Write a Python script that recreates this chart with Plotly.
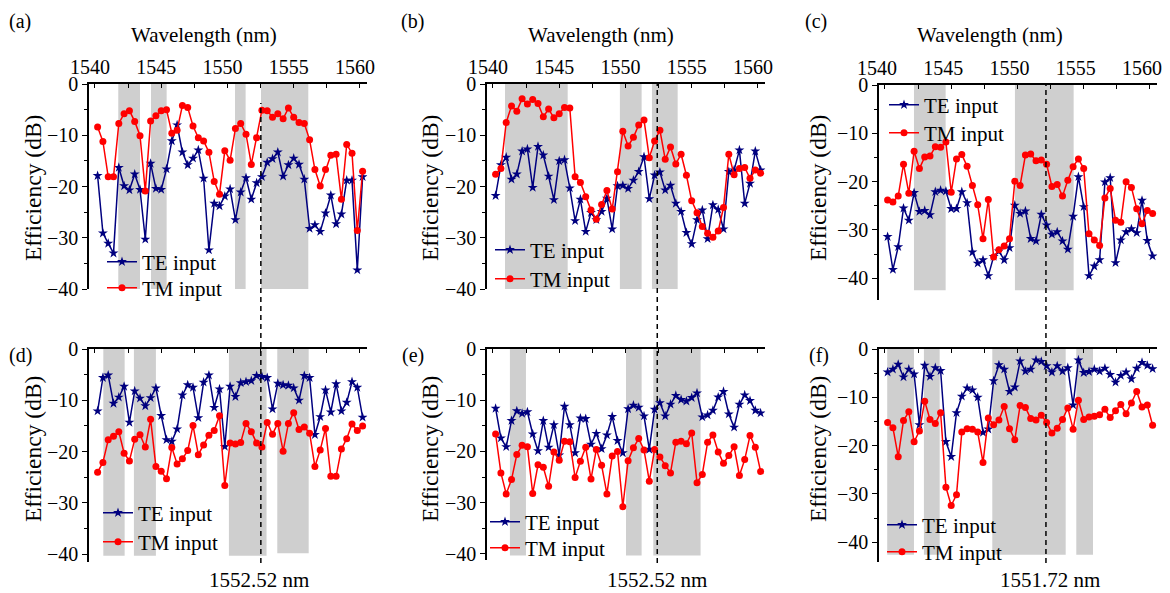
import plotly.graph_objects as go

# ---------------- data ----------------
wavelength = [1540.2, 1540.6, 1541.0, 1541.4, 1541.8, 1542.2, 1542.6, 1543.0, 1543.4, 1543.8,
              1544.2, 1544.6, 1545.0, 1545.4, 1545.8, 1546.2, 1546.6, 1547.0, 1547.4, 1547.8,
              1548.2, 1548.6, 1549.0, 1549.4, 1549.8, 1550.2, 1550.6, 1551.0, 1551.4, 1551.8,
              1552.2, 1552.6, 1553.0, 1553.4, 1553.8, 1554.2, 1554.6, 1555.0, 1555.4, 1555.8,
              1556.2, 1556.6, 1557.0, 1557.4, 1557.8, 1558.2, 1558.6, 1559.0, 1559.4, 1559.8,
              1560.2]

a_te = [-17.9, -29.1, -31.1, -33.0, -16.3, -19.9, -20.7, -17.6, -20.6, -30.3,
        -15.5, -20.4, -20.6, -16.6, -11.1, -8.0, -13.3, -15.8, -14.5, -12.9,
        -18.4, -32.4, -23.3, -23.8, -21.9, -20.5, -26.5, -21.1, -18.3, -22.5,
        -19.3, -18.1, -15.3, -14.6, -13.3, -18.0, -15.8, -14.5, -15.7, -18.6,
        -28.2, -27.5, -28.8, -25.2, -21.7, -27.3, -25.4, -18.8, -18.8, -36.3, -18.1]
a_tm = [-8.4, -11.2, -18.1, -18.1, -7.7, -5.8, -5.2, -7.3, -10.1, -20.9,
        -7.2, -6.2, -5.2, -5.0, -9.6, -9.0, -4.2, -4.6, -8.2, -10.5,
        -11.1, -13.3, -19.0, -21.5, -13.0, -14.9, -8.7, -7.7, -9.8, -15.7,
        -10.5, -5.1, -5.2, -6.5, -5.8, -6.8, -4.7, -6.5, -7.5, -7.7,
        -10.9, -16.7, -19.9, -16.7, -13.9, -13.7, -22.5, -11.8, -13.5, -28.6, -17.0]

b_te = [-21.8, -15.8, -14.3, -18.6, -17.6, -13.1, -12.7, -20.2, -12.2, -13.9,
        -18.0, -22.6, -15.0, -14.8, -20.3, -26.7, -22.5, -28.8, -25.1, -26.5,
        -24.9, -22.3, -28.3, -19.9, -19.8, -20.4, -18.8, -17.1, -14.2, -22.4,
        -17.8, -17.2, -20.7, -19.8, -23.3, -24.9, -29.0, -31.2, -26.5, -24.6,
        -30.2, -23.6, -24.5, -28.3, -17.1, -16.8, -12.9, -23.3, -19.4, -13.1, -16.8]
b_tm = [-17.6, -16.5, -7.5, -4.3, -5.3, -2.9, -3.9, -3.0, -3.8, -6.4,
        -4.9, -6.6, -5.8, -4.6, -4.7, -18.1, -19.2, -22.0, -24.6, -26.4,
        -23.5, -20.8, -24.4, -17.1, -9.2, -12.1, -10.4, -8.0, -7.0, -14.4,
        -11.1, -9.0, -14.7, -12.3, -15.6, -13.7, -17.8, -22.8, -25.1, -27.8,
        -29.1, -29.9, -28.7, -24.1, -13.7, -17.7, -16.5, -16.3, -18.4, -16.8, -17.4]

c_te = [-31.4, -38.2, -33.5, -25.5, -28.0, -22.3, -26.2, -26.0, -26.9, -22.1,
        -21.8, -22.0, -25.6, -25.6, -22.1, -24.4, -34.6, -36.9, -36.2, -39.5,
        -35.5, -34.4, -36.2, -33.7, -24.9, -26.6, -26.1, -31.8, -32.3, -26.8,
        -29.0, -30.9, -30.4, -32.3, -34.0, -27.2, -19.0, -25.2, -39.5, -37.5,
        -36.2, -20.1, -19.2, -36.8, -32.1, -30.4, -29.8, -30.6, -23.9, -32.2, -35.4]
c_tm = [-23.8, -24.2, -23.0, -16.4, -22.4, -13.7, -17.3, -14.9, -14.7, -12.8,
        -12.9, -11.8, -22.2, -15.3, -14.4, -16.8, -20.8, -24.8, -31.8, -23.7,
        -35.6, -34.1, -33.3, -31.8, -19.9, -20.8, -14.5, -14.3, -15.7, -15.5,
        -16.4, -21.0, -20.6, -23.0, -19.7, -16.9, -15.3, -17.3, -30.8, -32.1,
        -33.2, -23.4, -21.4, -28.0, -28.4, -20.0, -21.2, -25.6, -28.7, -26.0, -26.6]

d_te = [-12.1, -5.6, -5.1, -10.6, -9.4, -7.3, -14.3, -8.2, -9.6, -11.1,
        -9.5, -7.6, -13.0, -17.7, -18.0, -15.6, -9.0, -7.0, -7.5, -13.4,
        -6.5, -5.1, -11.4, -7.8, -19.0, -7.3, -9.3, -6.6, -6.4, -6.2,
        -5.2, -5.4, -5.6, -11.7, -6.7, -7.0, -7.1, -7.6, -10.0, -5.2,
        -5.6, -16.7, -13.2, -8.0, -12.3, -6.8, -12.1, -10.4, -6.4, -7.5, -13.3]
d_tm = [-24.0, -22.1, -17.7, -17.0, -16.1, -20.3, -21.8, -17.6, -16.7, -19.1,
        -13.7, -22.9, -23.8, -25.3, -19.2, -22.4, -21.4, -19.8, -14.9, -20.6,
        -18.7, -16.8, -15.9, -13.0, -26.6, -18.3, -18.5, -18.2, -14.5, -16.1,
        -18.3, -19.1, -14.3, -16.6, -14.5, -19.9, -14.5, -12.4, -15.7, -15.2,
        -16.4, -22.9, -19.7, -15.5, -24.8, -24.8, -19.5, -17.5, -14.6, -15.9, -15.0]

e_te = [-11.6, -17.4, -19.1, -14.0, -12.1, -12.6, -12.3, -16.6, -19.9, -14.0,
        -19.2, -14.8, -20.7, -11.2, -14.8, -20.3, -13.5, -13.6, -18.6, -16.5,
        -19.5, -16.8, -13.2, -17.9, -20.3, -11.7, -11.0, -11.4, -13.1, -19.6,
        -11.8, -10.5, -13.1, -10.8, -9.1, -9.9, -10.2, -9.5, -8.6, -13.3,
        -12.9, -12.0, -9.4, -8.3, -12.7, -15.3, -10.8, -9.0, -10.1, -12.0, -12.5]
e_tm = [-16.6, -24.2, -28.3, -25.5, -20.6, -18.8, -19.1, -28.2, -22.6, -23.1,
        -26.8, -20.1, -21.7, -18.0, -18.1, -25.1, -21.9, -19.2, -25.4, -19.6,
        -22.7, -28.3, -20.9, -20.0, -30.8, -21.8, -19.3, -17.5, -19.7, -25.8,
        -19.6, -21.1, -22.8, -24.2, -18.2, -18.0, -18.5, -16.4, -26.1, -24.5,
        -18.2, -16.8, -20.1, -22.3, -20.8, -19.1, -24.7, -21.6, -16.9, -19.2, -23.9]

f_te = [-4.8, -4.2, -3.2, -5.8, -4.2, -5.2, -15.7, -3.4, -5.7, -3.9,
        -4.5, -19.2, -22.3, -13.2, -9.8, -8.1, -8.5, -10.0, -17.3, -16.6,
        -6.6, -3.3, -4.2, -8.8, -7.9, -2.5, -4.6, -4.2, -2.3, -2.6,
        -3.5, -4.8, -3.5, -4.6, -3.9, -11.6, -2.3, -4.9, -4.7, -4.2,
        -4.6, -4.0, -5.3, -6.9, -5.5, -4.8, -6.2, -4.0, -2.8, -3.4, -4.1]
f_tm = [-15.2, -16.3, -22.3, -14.8, -13.0, -19.2, -17.0, -10.8, -14.6, -15.4,
        -13.2, -28.6, -32.4, -30.2, -17.2, -16.5, -16.6, -17.2, -23.5, -14.3,
        -15.7, -14.7, -11.9, -16.5, -18.8, -11.7, -12.1, -14.4, -14.7, -13.7,
        -15.2, -17.4, -16.4, -14.6, -12.2, -16.6, -10.6, -14.6, -14.1, -13.9,
        -13.6, -12.5, -14.2, -12.8, -11.5, -13.4, -11.2, -8.8, -12.0, -11.6, -15.8]

# shaded wavelength windows: (start, end, lower edge in dB)
a_bands = [(1541.76, 1543.40, -40), (1544.23, 1545.41, -40), (1550.57, 1551.37, -40), (1552.53, 1556.10, -40)]
b_bands = [(1540.91, 1545.64, -40), (1549.58, 1551.22, -40), (1552.00, 1553.94, -40)]
c_bands = [(1542.19, 1544.58, -42.5), (1549.81, 1554.24, -42.5)]
d_bands = [(1540.63, 1542.24, -40.3), (1542.94, 1544.60, -40.3), (1550.11, 1552.95, -40.3), (1553.76, 1556.13, -39.8)]
e_bands = [(1541.28, 1542.49, -40.3), (1550.04, 1551.22, -40.3), (1552.10, 1555.67, -40.3)]
f_bands = [(1540.17, 1542.19, -42.6), (1542.94, 1544.13, -42.6), (1548.10, 1553.64, -42.6), (1554.44, 1555.70, -42.6)]

panel_letters = ["(a)", "(b)", "(c)", "(d)", "(e)", "(f)"]
series_names = ["TE input", "TM input"]
marker_labels = ["1552.52 nm", "1552.52 nm", "1551.72 nm"]
marker_positions = [1552.52, 1552.40, 1552.15]
x_ticks = [1540, 1545, 1550, 1555, 1560]
y_ticks = [0, -10, -20, -30, -40]

# ---------------- layout geometry (pixels of the screenshot) ----------------
OFF = 8  # default page-body margin of the html page
W, H = 1170 - OFF, 593 - OFF  # figure fills the window exactly
FONT = "Liberation Serif, Times New Roman, Times, serif"
TE_COLOR = "#00007f"
TM_COLOR = "#ff0000"
BAND_COLOR = "#cfcfcf"

col_left = [89, 487, 879]
col_label_shift = [-5, -5, -8]
col_width = 278.25
x_range = [1539.55, 1560.55]
# (top px, bottom px, y range) per panel
panel_geo = [
    (84, 289, [-40, 0]),
    (84, 289, [-40, 0]),
    (85, 300, [-44.5, 0]),
    (349, 562, [-41.5, 0]),
    (349, 560, [-41.2, 0]),
    (349, 562, [-44.1, 0]),
]
# legend entries: (line start x, TE centre y, TM centre y)
legend_geo = [(107, 262, 288), (495, 250, 279), (889, 105, 133),
              (103, 513, 542), (490, 522, 548), (887, 525, 552)]

panels = [
    (a_te, a_tm, a_bands), (b_te, b_tm, b_bands), (c_te, c_tm, c_bands),
    (d_te, d_tm, d_bands), (e_te, e_tm, e_bands), (f_te, f_tm, f_bands),
]


def px_x(p):
    return (p - OFF) / W


def px_y(p):
    return 1 - (p - OFF) / H


fig = go.Figure()
shapes = []
annotations = []
layout_extra = {}


def legend_name(idx):
    return "legend" if idx == 1 else "legend" + str(idx)


for k, (te, tm, bands) in enumerate(panels):
    n = k + 1
    suffix = "" if n == 1 else str(n)
    col = k % 3
    top_row = k < 3
    top, bot, yr = panel_geo[k]
    xa = "x" + suffix
    ya = "y" + suffix
    leg_te = legend_name(2 * k + 1)
    leg_tm = legend_name(2 * k + 2)

    fig.add_trace(go.Scatter(
        x=wavelength, y=te, mode="lines+markers", name=series_names[0],
        line=dict(color=TE_COLOR, width=1.5),
        marker=dict(symbol="star", size=7.5, color=TE_COLOR),
        xaxis=xa, yaxis=ya, legend=leg_te, showlegend=True))
    fig.add_trace(go.Scatter(
        x=wavelength, y=tm, mode="lines+markers", name=series_names[1],
        line=dict(color=TM_COLOR, width=1.5),
        marker=dict(symbol="circle", size=7, color=TM_COLOR),
        xaxis=xa, yaxis=ya, legend=leg_tm, showlegend=True))

    for (x0, x1, ylow) in bands:
        shapes.append(dict(type="rect", xref=xa, yref=ya, x0=x0, x1=x1, y0=ylow, y1=0,
                           fillcolor=BAND_COLOR, line=dict(width=0), layer="below"))

    layout_extra["xaxis" + suffix] = dict(
        domain=[px_x(col_left[col]), px_x(col_left[col] + col_width)],
        range=x_range, anchor=ya, side="top", automargin=False,
        showline=True, linecolor="black", linewidth=1.5, mirror=False,
        ticks="inside", ticklen=4, tickwidth=1.2, tickcolor="black",
        tickvals=x_ticks, showticklabels=top_row,
        ticklabelshift=col_label_shift[col],
        minor=dict(dtick=2.5, tick0=1540, ticks="inside", ticklen=4, tickwidth=1.2, tickcolor="black"),
        showgrid=False, zeroline=False,
        tickfont=dict(family=FONT, size=20, color="black"),
    )
    layout_extra["yaxis" + suffix] = dict(
        domain=[px_y(bot), px_y(top)],
        range=yr, anchor=xa, automargin=False,
        showline=True, linecolor="black", linewidth=1.5,
        ticks="outside", ticklen=5, tickwidth=1.2, tickcolor="black",
        tickvals=y_ticks,
        minor=dict(dtick=5, tick0=0, ticks="outside", ticklen=3, tickwidth=1.2, tickcolor="black"),
        showgrid=False, zeroline=False,
        tickfont=dict(family=FONT, size=20, color="black"),
    )
    lx, y_te, y_tm = legend_geo[k]
    for leg, yc in ((leg_te, y_te), (leg_tm, y_tm)):
        layout_extra[leg] = dict(
            x=px_x(lx - 5), y=px_y(yc), xanchor="left", yanchor="middle",
            bgcolor="rgba(0,0,0,0)", borderwidth=0,
            font=dict(family=FONT, size=21, color="black"),
            tracegroupgap=0, itemwidth=30, visible=True,
        )

# dashed marker lines spanning both rows of each column
dash_tops = [103, 84, 85]
for col in range(3):
    xa = "x" + str(col + 4)
    shapes.append(dict(type="line", xref=xa, yref="paper",
                       x0=marker_positions[col], x1=marker_positions[col],
                       y0=px_y(563), y1=px_y(dash_tops[col]),
                       line=dict(color="black", width=1.5, dash="5px,4px"), layer="above"))

# text annotations
letter_xy = [(20, 21), (413, 21), (816, 21), (20, 355), (413, 355), (819, 355)]
for k, (lx, ly) in enumerate(letter_xy):
    annotations.append(dict(text=panel_letters[k], x=px_x(lx), y=px_y(ly), xref="paper", yref="paper",
                            showarrow=False, xanchor="center", yanchor="middle",
                            font=dict(family=FONT, size=20, color="black")))

wl_x = [204, 601, 990]
for col in range(3):
    annotations.append(dict(text="Wavelength (nm)", x=px_x(wl_x[col]), y=px_y(35), xref="paper", yref="paper",
                            showarrow=False, xanchor="center", yanchor="middle",
                            font=dict(family=FONT, size=21, color="black")))

eff_x = [33, 430, 818]
for col in range(3):
    for yc in (188, 449):
        annotations.append(dict(text="Efficiency (dB)", x=px_x(eff_x[col]), y=px_y(yc),
                                xref="paper", yref="paper", textangle=-90,
                                showarrow=False, xanchor="center", yanchor="middle",
                                font=dict(family=FONT, size=23.5, color="black")))

lab_x = [259, 657, 1050]
for col in range(3):
    annotations.append(dict(text=marker_labels[col], x=px_x(lab_x[col]), y=px_y(580),
                            xref="paper", yref="paper",
                            showarrow=False, xanchor="center", yanchor="middle",
                            font=dict(family=FONT, size=21, color="black")))

fig.update_layout(
    width=W, height=H, autosize=False, showlegend=True,
    margin=dict(l=0, r=0, t=0, b=0, autoexpand=False),
    paper_bgcolor="white", plot_bgcolor="rgba(0,0,0,0)",
    font=dict(family=FONT, size=20, color="black"),
    shapes=shapes, annotations=annotations,
    **layout_extra,
)

fig.write_html("out.html")
